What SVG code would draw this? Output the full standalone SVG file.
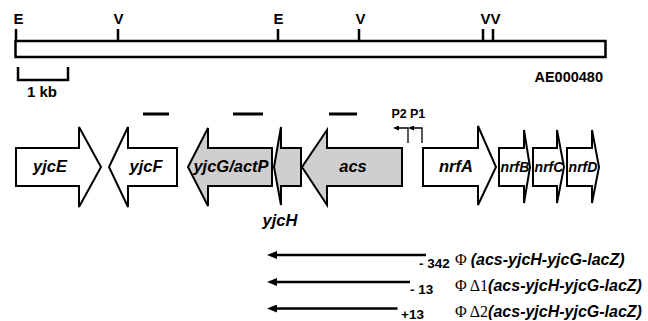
<svg xmlns="http://www.w3.org/2000/svg" width="648" height="321" viewBox="0 0 648 321">
<style>
.bg{fill:#fff}
.ln{stroke:#000;stroke-width:2.5;fill:none}
.bar{stroke:#000;stroke-width:3;fill:none}
.gene{stroke:#000;stroke-width:2;stroke-linejoin:miter;fill:#fff}
.gene.sh{fill:#cfcfcf}
.t{font-family:"Liberation Sans",Arial,sans-serif;font-weight:bold;fill:#000}
.gi{font-family:"Liberation Sans",Arial,sans-serif;font-weight:bold;font-style:italic;font-size:16.5px;fill:#000;text-anchor:middle}
.gs{font-size:14px}
.sf{font-family:"Liberation Serif","Times New Roman",serif;font-weight:normal;font-style:normal}
.lab{font-family:"Liberation Sans",Arial,sans-serif;font-weight:bold;font-style:italic;font-size:16px;fill:#000}
.prom{stroke:#000;stroke-width:1.3;fill:none}
.cons{stroke:#000;stroke-width:2.5;fill:none}
</style>
<defs>
<marker id="ah" viewBox="0 0 10 8" refX="2" refY="4" markerWidth="10" markerHeight="8" markerUnits="userSpaceOnUse" orient="auto">
<path d="M0,0 L10,4 L0,8 z" fill="#000"/>
</marker>
<marker id="ahs" viewBox="0 0 6 5" refX="1" refY="2.5" markerWidth="6" markerHeight="5" markerUnits="userSpaceOnUse" orient="auto">
<path d="M0,0 L6,2.5 L0,5 z" fill="#000"/>
</marker>
</defs>
<rect class="bg" x="0" y="0" width="648" height="321"/>

<g id="map">
<rect x="15.5" y="41" width="590" height="16" fill="#fff" stroke="#000" stroke-width="2.5"/>
<path class="ln" d="M16,29 V41 M118,29 V41 M278,29 V41 M359,29 V41 M483,29 V41 M493,29 V41"/>
<g class="t" font-size="15" text-anchor="middle">
<text x="18.5" y="24">E</text>
<text x="118.5" y="24">V</text>
<text x="278.5" y="24">E</text>
<text x="360.5" y="24">V</text>
<text x="490.5" y="24">VV</text>
</g>
<text class="t" x="603" y="82" font-size="14.5" text-anchor="end">AE000480</text>
</g>

<g id="scale">
<path class="ln" d="M18,67 V80 H68 V67"/>
<text class="t" x="27" y="97" font-size="15">1 kb</text>
</g>

<g id="probes">
<path class="bar" d="M143,114 H169 M233,114 H263 M329,114 H357"/>
</g>

<g id="yjcE">
<polygon class="gene" points="16,148 79,148 79,127 101,167 79,207 79,186 16,186"/>
<text class="gi" x="50" y="172">yjcE</text>
</g>
<g id="yjcF">
<polygon class="gene" points="109,167 128,127 128,148 177,148 177,186 128,186 128,207"/>
<text class="gi" x="146" y="172">yjcF</text>
</g>
<g id="yjcG">
<polygon class="gene sh" points="188,167 208,128 208,148 272,148 272,186 208,186 208,206"/>
<text class="gi" x="231" y="172">yjcG/actP</text>
</g>
<g id="yjcH">
<polygon class="gene sh" points="274,167 281,127 281,148 301,148 301,186 281,186 281,205"/>
<text class="gi" x="280" y="226">yjcH</text>
</g>
<g id="acs">
<polygon class="gene sh" points="302,167 327,130 327,148 402,148 402,186 327,186 327,205"/>
<text class="gi" x="353" y="172">acs</text>
</g>
<g id="nrfA">
<polygon class="gene" points="423,148 478,148 478,126 496,167 478,205 478,186 423,186"/>
<text class="gi" x="456" y="172">nrfA</text>
</g>
<g id="nrfB">
<polygon class="gene" points="499,148 524,148 524,130 530,167 524,203 524,186 499,186"/>
<text class="gi gs" x="515" y="172">nrfB</text>
</g>
<g id="nrfC">
<polygon class="gene" points="533,148 557,148 557,130 564,167 557,203 557,186 533,186"/>
<text class="gi gs" x="549" y="172">nrfC</text>
</g>
<g id="nrfD">
<polygon class="gene" points="567,148 592,148 592,130 599,167 592,203 592,186 567,186"/>
<text class="gi gs" x="583" y="172">nrfD</text>
</g>

<g id="promoters">
<text class="t" x="391.5" y="118" font-size="12.5">P2</text>
<text class="t" x="410" y="118" font-size="12.5">P1</text>
</g>

<g id="connectors">
<path class="prom" d="M408,143 V128 H398" marker-end="url(#ahs)"/>
<path class="prom" d="M422,143 V128 H413" marker-end="url(#ahs)"/>
<path class="cons" d="M426,255 H275" marker-end="url(#ah)"/>
<path class="cons" d="M410,282 H275" marker-end="url(#ah)"/>
<path class="cons" d="M397.5,308.5 H275" marker-end="url(#ah)"/>
</g>

<g id="constructs">
<text class="t" x="419" y="268" font-size="13.5">- 342</text>
<text class="t" x="410" y="294" font-size="13.5">- 13</text>
<text class="t" x="401" y="319" font-size="13.5">+13</text>
<text class="lab" x="455" y="265"><tspan class="sf">Φ </tspan>(acs-yjcH-yjcG-lacZ)</text>
<text class="lab" x="455" y="291"><tspan class="sf">Φ Δ1</tspan>(acs-yjcH-yjcG-lacZ)</text>
<text class="lab" x="455" y="317"><tspan class="sf">Φ Δ2</tspan>(acs-yjcH-yjcG-lacZ)</text>
</g>
</svg>
